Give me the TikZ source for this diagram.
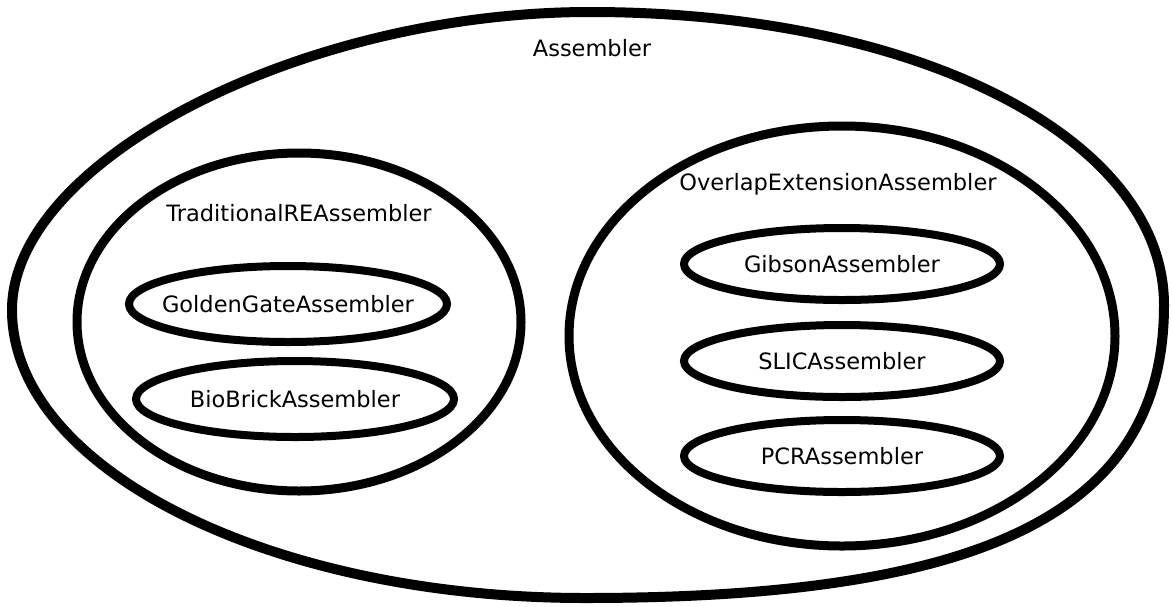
\documentclass[tikz,border=0pt]{standalone}
\usepackage{fontspec}
\setmainfont{DejaVu Sans}
\usetikzlibrary{shapes.geometric}
\tikzset{
  setshape/.style={draw=black, shape=ellipse, inner sep=0pt, line width=#1},
  outerline/.style={draw=black, line width=10pt, line join=round},
  groupset/.style={setshape=9pt},
  leafset/.style={setshape=8pt, minimum width=318pt, minimum height=76pt},
  settext/.style={font=\fontsize{22.5}{27}\selectfont, inner sep=0pt, text=black},
}
\begin{document}
\begin{tikzpicture}[x=1pt,y=-1pt]
\useasboundingbox (0,0) rectangle (1172,606);
\fill[white] (0,0) rectangle (1172,606);

% top level set: a slightly egg-shaped closed curve
\coordinate (otop) at (590,12);
\coordinate (oright) at (1164,305);
\coordinate (obottom) at (585,598);
\coordinate (oleft) at (12,310);
\draw[outerline] (otop)
  .. controls (917,12) and (1164,138) .. (oright)
  .. controls (1164,510) and (990,598) .. (obottom)
  .. controls (270,598) and (12,469) .. (oleft)
  .. controls (12,161) and (301,12) .. (otop) -- cycle;
\node[settext] (assemblertxt) at (592,48) {Assembler};

% restriction-enzyme based assemblers
\node[groupset, minimum width=444pt, minimum height=338pt] (traditional) at (299,322) {};
\node[settext] (traditionaltxt) at (299,213) {TraditionalREAssembler};
\node[leafset, label={[settext]center:GoldenGateAssembler}] (goldengate) at (288,304) {};
\node[leafset, label={[settext]center:BioBrickAssembler}] (biobrick) at (295,399) {};

% overlap based assemblers
\node[groupset, minimum width=546pt, minimum height=420pt] (overlap) at (842,336) {};
\node[settext] (overlaptxt) at (838,184) {OverlapExtensionAssembler};
\node[leafset, minimum width=316pt, minimum height=72pt, label={[settext]center:GibsonAssembler}] (gibson) at (842,264) {};
\node[leafset, minimum width=316pt, minimum height=72pt, label={[settext]center:SLICAssembler}] (slic) at (842,361) {};
\node[leafset, minimum width=316pt, minimum height=72pt, label={[settext]center:PCRAssembler}] (pcr) at (842,456) {};
\end{tikzpicture}
\end{document}
